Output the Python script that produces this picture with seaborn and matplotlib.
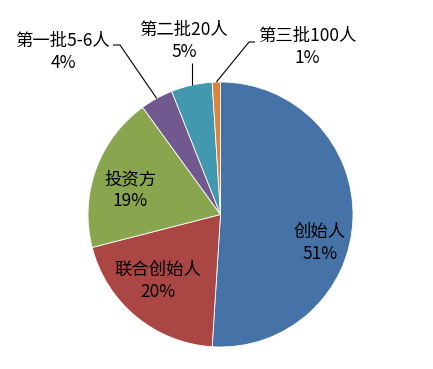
import numpy as np
import matplotlib
matplotlib.use("Agg")
import matplotlib.pyplot as plt
import seaborn as sns

categories = ["创始人", "联合创始人", "投资方", "第一批5-6人", "第二批20人", "第三批100人"]
values = [51, 20, 19, 4, 5, 1]
pct_labels = ["51%", "20%", "19%", "4%", "5%", "1%"]
colors = ["#4572A7", "#AA4643", "#89A54E", "#71588F", "#4198AF", "#DB843D"]

sns.set_theme(style="white")
plt.rcParams["font.family"] = ["Noto Sans CJK SC", "DejaVu Sans"]

W, H = 433, 369
fig = plt.figure(figsize=(W / 100, H / 100), dpi=100)
cx, cy, R = 220.5, 214.5, 132.5
ax = fig.add_axes([(cx - R) / W, (H - cy - R) / H, 2 * R / W, 2 * R / H])

wedges, _ = ax.pie(values, colors=sns.color_palette(colors), startangle=90,
                   counterclock=False, radius=1.0,
                   wedgeprops=dict(linewidth=0.6, edgecolor="white"))
ax.set_xlim(-1, 1)
ax.set_ylim(-1, 1)
ax.axis("off")

def to_data(px, py):
    return (px - cx) / R, (cy - py) / R

# label centers in pixel space
label_pos = [(320, 243), (158, 281), (130, 190), (63, 52), (184, 41), (307, 47)]
fs = 12.5
for i, (cat, pct) in enumerate(zip(categories, pct_labels)):
    x, y = to_data(*label_pos[i])
    ax.text(x, y, f"{cat}\n{pct}", ha="center", va="center", fontsize=fs,
            color="black", linespacing=1.3, clip_on=False)

def edge_point(w):
    ang = np.deg2rad((w.theta1 + w.theta2) / 2)
    return np.cos(ang), np.sin(ang)

lk = dict(color="black", lw=0.8, clip_on=False, solid_capstyle="butt")
# 第一批 leader: horizontal then diagonal
ex, ey = edge_point(wedges[3])
a = to_data(113, 45); b = to_data(120, 45)
ax.plot([a[0], b[0], ex], [a[1], b[1], ey], **lk)
# 第二批 leader: vertical
ex, ey = edge_point(wedges[4])
a = to_data(192, 63)
ax.plot([ex, ex], [a[1], ey], **lk)
# 第三批 leader
ex, ey = edge_point(wedges[5])
a = to_data(255, 42); b = to_data(249, 42)
ax.plot([a[0], b[0], ex], [a[1], b[1], ey], **lk)

fig.savefig("out.png", dpi=100, facecolor="white")
